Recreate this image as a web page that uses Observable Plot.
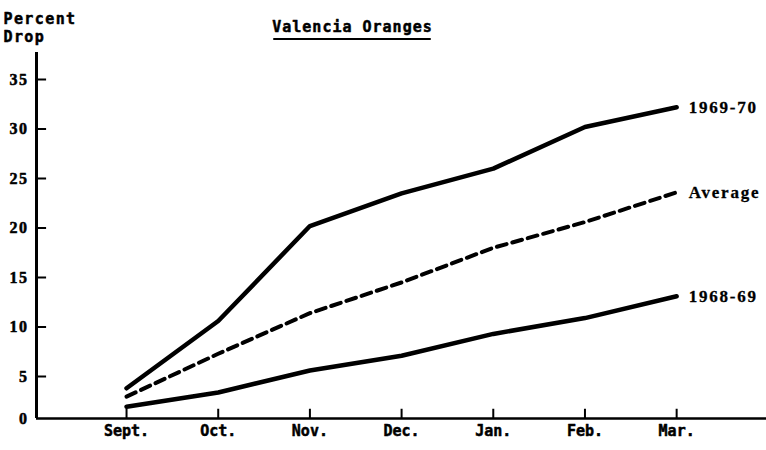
<!DOCTYPE html>
<html>
<head>
<meta charset="utf-8">
<script src="https://cdn.jsdelivr.net/npm/d3@7"></script>
<script src="https://cdn.jsdelivr.net/npm/@observablehq/plot@0.6"></script>
<style>
  html, body { margin: 0; padding: 0; background: #fff; }
  #chart { width: 766px; height: 450px; }
  .ytick-lbl text { letter-spacing: 1.5px; }
  .series-lbl text { letter-spacing: 1.8px; }
  .chart-title text { letter-spacing: 1px; }
  .ylabel text { letter-spacing: 1.4px; }
</style>
</head>
<body>
<div id="chart"></div>
<script>
const months = ["Sept.", "Oct.", "Nov.", "Dec.", "Jan.", "Feb.", "Mar."];
const drop1969_70 = [3.6, 10.6, 20.2, 23.5, 26.0, 30.2, 32.2];
const dropAverage = [2.6, 7.3, 11.4, 14.5, 18.0, 20.6, 23.6];
const drop1968_69 = [1.4, 3.1, 5.6, 7.1, 9.3, 10.9, 13.1];
const yTicks = [0, 5, 10, 15, 20, 25, 30, 35];
const seriesNames = ["1969-70", "Average", "1968-69"];
const titleText = "Valencia Oranges";
const yLabelLines = ["Percent", "Drop"];

const idx = months.map((m, i) => i);
const rows = (vals, s) => vals.map((v, i) => ({i, v, s}));
const solidA = rows(drop1969_70, seriesNames[0]);
const dashed = rows(dropAverage, seriesNames[1]);
const solidB = rows(drop1968_69, seriesNames[2]);
const ends = [solidA[6], dashed[6], solidB[6]];

const xMin = -0.982, xMax = 6.98;
const mono = "'DejaVu Sans Mono', monospace";
const serif = "'Liberation Serif', 'DejaVu Serif', serif";
const monoText = {fontFamily: mono, fontWeight: "bold", fontSize: 15, fill: "#000", stroke: "#000", strokeWidth: 0.5};

const chart = Plot.plot({
  width: 766,
  height: 450,
  marginLeft: 36,
  marginRight: 0,
  marginTop: 52,
  marginBottom: 32,
  x: {type: "linear", domain: [xMin, xMax], axis: null},
  y: {type: "linear", domain: [0, 5, 35, 37.7], range: [418, 376, 79, 52], axis: null},
  marks: [
    // axes
    Plot.ruleX([xMin], {stroke: "#000", strokeWidth: 3}),
    Plot.ruleY([0], {x1: xMin, x2: xMax, stroke: "#000", strokeWidth: 2.5}),
    Plot.ruleY(yTicks.filter(d => d > 0), {y: d => d, x1: xMin, x2: xMin + 0.11, stroke: "#000", strokeWidth: 2}),
    Plot.ruleX(idx, {x: d => d, y1: 0, y2: 1.1, stroke: "#000", strokeWidth: 2}),
    Plot.text(yTicks, {x: xMin, y: d => d, text: d => String(d), dx: -8, textAnchor: "end", lineAnchor: "middle",
      fontFamily: serif, fontWeight: "bold", fontSize: 16, fill: "#000", stroke: "#000", strokeWidth: 0.5,
      className: "ytick-lbl"}),
    Plot.text(months, {x: (d, i) => i, y: 0, text: d => d, dy: 17, lineAnchor: "bottom", ...monoText}),
    // lines
    Plot.line(solidA, {x: "i", y: "v", stroke: "#000", strokeWidth: 4.5, strokeLinejoin: "round"}),
    Plot.line(solidB, {x: "i", y: "v", stroke: "#000", strokeWidth: 4.5, strokeLinejoin: "round"}),
    Plot.line(dashed, {x: "i", y: "v", stroke: "#000", strokeWidth: 4, strokeDasharray: "10,6"}),
    // series labels
    Plot.text(ends, {x: "i", y: "v", text: "s", dx: 12, textAnchor: "start", lineAnchor: "middle",
      fontFamily: serif, fontWeight: "bold", fontSize: 17, fill: "#000", stroke: "#000", strokeWidth: 0.3,
      className: "series-lbl"}),
    // title
    Plot.text([titleText], {frameAnchor: "top-left", dx: 316, dy: -21, text: d => d, textAnchor: "middle", lineAnchor: "bottom",
      ...monoText, className: "chart-title"}),
    // y label (two lines)
    Plot.text([yLabelLines[0]], {frameAnchor: "top-left", dx: -33, dy: -29, text: d => d, textAnchor: "start", lineAnchor: "bottom",
      ...monoText, className: "ylabel"}),
    Plot.text([yLabelLines[1]], {frameAnchor: "top-left", dx: -33, dy: -11, text: d => d, textAnchor: "start", lineAnchor: "bottom",
      ...monoText, className: "ylabel"})
  ]
});
document.getElementById("chart").appendChild(chart);

// underline the title
const svgRect = chart.getBoundingClientRect();
const tnode = d3.select(chart).select("g.chart-title text").node();
if (tnode) {
  const r = tnode.getBoundingClientRect();
  d3.select(chart).append("line")
    .attr("x1", r.left - svgRect.left + 1).attr("x2", r.right - svgRect.left - 2)
    .attr("y1", 39).attr("y2", 39)
    .attr("stroke", "#000").attr("stroke-width", 2.2);
}
</script>
</body>
</html>
